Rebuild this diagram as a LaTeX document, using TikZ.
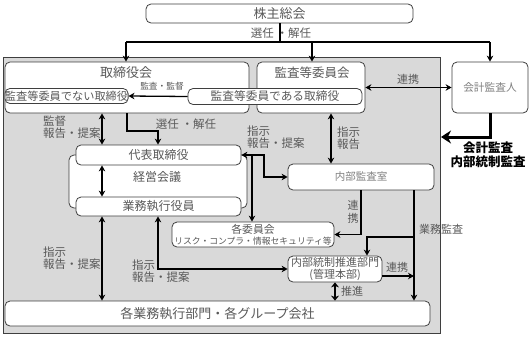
\documentclass[tikz,border=0pt]{standalone}
\usepackage{fontspec}
\setmainfont{Noto Sans CJK JP}
\usetikzlibrary{arrows.meta}
\definecolor{txt}{HTML}{595959}
\definecolor{ltxt}{HTML}{7F7F7F}
\definecolor{bgc}{HTML}{D9D9D9}
\definecolor{edgec}{HTML}{3F3F3F}
\newcommand\jfs[1]{\fontsize{#1}{#1}\selectfont}
\tikzset{
  box/.style={draw=edgec, fill=white, rounded corners=5pt, line width=0.8pt, inner sep=0pt, text=txt},
  lab/.style={text=txt, inner sep=0pt, font=\jfs{11.5}},
  mlab/.style={lab, anchor=west, align=left, font=\fontsize{11.5}{11.8}\selectfont},
  arr/.style={line width=1.3pt, -{Stealth[length=6pt,width=6.5pt]}},
  darr/.style={line width=1.3pt, {Stealth[length=6pt,width=6.5pt]}-{Stealth[length=6pt,width=6.5pt]}},
  bigarr/.style={line width=3pt, -{Stealth[length=10pt,width=13pt]}},
  bigdarr/.style={line width=2.6pt, {Stealth[length=5pt,width=8pt]}-{Stealth[length=5pt,width=8pt]}},
}
\begin{document}
\begin{tikzpicture}[x=1pt,y=-1pt]
\useasboundingbox (0,0) rectangle (532,338);
% background region
\node[draw=edgec, fill=bgc, line width=0.8pt, inner sep=0pt, minimum width=437pt, minimum height=276pt] (gray) at (221.5,195) {};
% top
\node[box, minimum width=267pt, minimum height=19pt, font=\jfs{13}] (soukai) at (279.5,13.5) {株主総会};
\coordinate (j0) at (280,42);
\coordinate (jl) at (126,42);
\coordinate (jr) at (490,42);
\coordinate (jm) at (312,42);
\node[lab] (senin1) at (281,33) {選任 ・解任};
% boards
\node[box, minimum width=244pt, minimum height=51pt] (tori) at (127,87.5) {};
\node[lab, font=\jfs{13}] (toriT) at (126,73) {取締役会};
\node[box, minimum width=108pt, minimum height=51pt] (kansa) at (311,87.5) {};
\node[lab, font=\jfs{12.5}] (kansaT) at (312,73) {監査等委員会};
\node[box, minimum width=123pt, minimum height=15pt, font=\jfs{11.2}] (nai) at (66.5,96) {監査等委員でない取締役};
\node[box, minimum width=174pt, minimum height=16pt, font=\jfs{11.7}] (aru) at (275,96.5) {監査等委員である取締役};
\node[box, minimum width=76pt, minimum height=51pt, font=\jfs{10.7}, text=ltxt] (kaikei) at (490,87.5) {会計監査人};
% top connectors
\draw[line width=1.3pt] (soukai.south -| j0) -- (j0);
\draw[line width=1.3pt] (jl) -- (jr);
\draw[arr] (jl) -- (tori.north -| jl);
\draw[arr] (jm) -- (kansa.north -| jm);
\draw[arr] (jr) -- (kaikei.north -| jr);
\draw[darr] (kansa.east) -- (kaikei.west);
\node[lab, font=\jfs{11}] (renkei1) at (408,79) {連携};
\draw[arr] (aru.west) -- (nai.east);
\node[lab, font=\jfs{8.7}] (kansakantoku) at (162,86.5) {監査・監督};
\coordinate (kk) at (441,137);
\draw[bigarr] (kaikei.south) |- (kk);
\node[inner sep=0pt, font=\bfseries\jfs{12.5}, align=center] (kaikeikansa) at (488,155) {会計監査\\[1.5pt]内部統制監査};
% executive block
\node[box, minimum width=178pt, minimum height=53pt] (keiei) at (158,181.5) {};
\node[lab, font=\jfs{12}] (keieiT) at (157,177) {経営会議};
\node[box, minimum width=165pt, minimum height=20pt, font=\jfs{12}] (daihyo) at (158.5,155) {代表取締役};
\node[box, minimum width=165pt, minimum height=19pt, font=\jfs{12}] (gyomu) at (158.5,206.5) {業務執行役員};
\coordinate (cA) at (102,0);
\draw[darr] (tori.south -| cA) -- (daihyo.north -| cA);
\node[mlab] (lab1) at (43,127.5) {監督\\報告・提案};
\coordinate (cB) at (158,131);
\draw[arr] (tori.south) |- (cB) -- (daihyo.north -| cB);
\node[lab] (senin2) at (186,124) {選任 ・解任};
\draw[darr] (daihyo.south -| cA) -- (gyomu.north -| cA);
% internal audit
\node[box, minimum width=146pt, minimum height=26pt, font=\jfs{10.5}, text=ltxt] (naibu) at (361,177) {内部監査室};
\coordinate (cC) at (264,0);
\draw[darr] (daihyo.east) -| (cC |- naibu.west) -- (naibu.west);
\node[mlab] (lab2) at (247,137.5) {指示\\報告・提案};
\coordinate (cE) at (331,0);
\draw[darr] (kansa.south -| cE) -- (naibu.north -| cE);
\node[mlab] (lab3) at (337,138.5) {指示\\報告};
% committees
\node[box, minimum width=162pt, minimum height=25pt] (iinkai) at (253,234.5) {};
\node[lab, font=\jfs{10.8}] (iinkaiT) at (253,229) {各委員会};
\node[lab, font=\jfs{8.8}] (iinkaiS) at (253,241.5) {リスク・コンプラ・情報セキュリティ等};
\coordinate (cD) at (252,155);
\draw[arr] (cD) -- (iinkai.north -| cD);
\draw[arr] (naibu.south) |- (iinkai.east);
\node[lab, align=center, font=\fontsize{11}{13}\selectfont] (renkei2) at (353,211.5) {連\\携};
% bottom
\node[box, minimum width=425pt, minimum height=25pt, font=\jfs{13}] (kaku) at (217.5,313.5) {各業務執行部門・各グループ会社};
\node[box, minimum width=94pt, minimum height=26pt, align=center, font=\fontsize{11}{12}\selectfont] (suishin) at (335,269) {内部統制推進部門\\(管理本部)};
\coordinate (cF) at (414,0);
\draw[arr] (naibu.south -| cF) -- (kaku.north -| cF);
\node[lab, font=\jfs{11}] (gyomukansa) at (441,229) {業務監査};
\coordinate (cG) at (414,237);
\coordinate (cH) at (367,0);
\draw[arr] (cG) -| (suishin.north -| cH);
\coordinate (cI) at (0,276);
\draw[arr] (suishin.east |- cI) -- (cF |- cI);
\node[lab, font=\jfs{11}] (renkei3) at (397,267) {連携};
\draw[bigdarr] (suishin.south) -- (kaku.north -| suishin.south);
\node[lab, anchor=west, font=\jfs{11}] (suishinL) at (341,291) {推進};
\coordinate (cJ) at (158,0);
\draw[darr] (gyomu.south -| cJ) |- (suishin.west);
\node[mlab] (lab4) at (43,258.5) {指示\\報告・提案};
\node[mlab] (lab5) at (132,271) {指示\\報告・提案};
\draw[darr] (gyomu.south -| cA) -- (kaku.north -| cA);
\end{tikzpicture}
\end{document}
